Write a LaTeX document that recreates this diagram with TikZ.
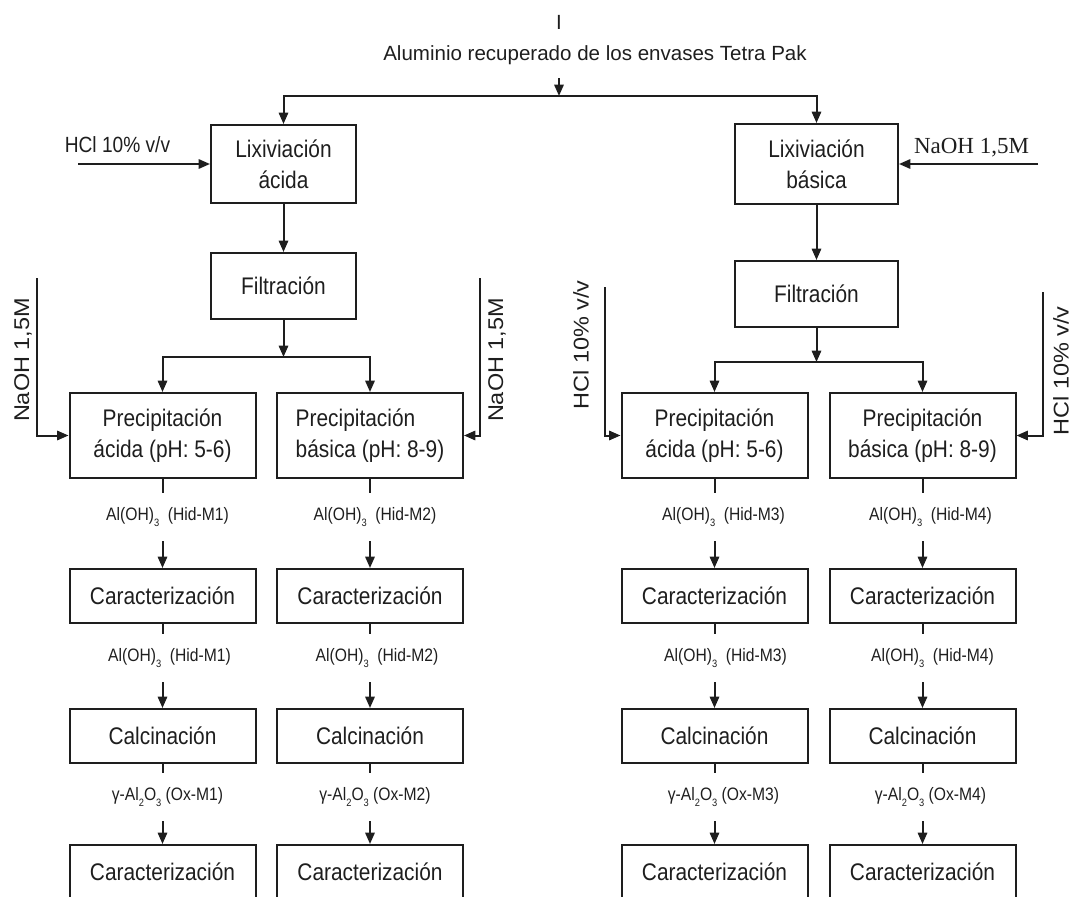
\documentclass[tikz,border=0pt]{standalone}
\usepackage{fontspec}
\setmainfont{Liberation Sans}
\newfontfamily\condfont{Liberation Sans}[FakeStretch=0.87]
\newfontfamily\widefont{Liberation Sans}[FakeStretch=1.1]
\newfontfamily\serffont{Liberation Serif}
\usetikzlibrary{arrows.meta}
\definecolor{ink}{RGB}{30,30,30}
\newcommand\lowsub[1]{\raisebox{-0.55ex}{\footnotesize #1}}

\begin{document}
\begin{tikzpicture}[x=0.75pt,y=-0.75pt,
  every node/.style={text=ink},
  proc/.style={draw=ink,line width=1.5pt,rectangle,inner sep=0pt,align=center,
    font=\condfont\fontsize{18}{23}\selectfont},
  lixbox/.style={proc,minimum width=108.75pt,minimum height=58.5pt},
  filbox/.style={proc,minimum width=108.75pt,minimum height=49.5pt},
  precbox/.style={proc,minimum width=139.5pt,minimum height=63.75pt},
  stepbox/.style={proc,minimum width=139.5pt,minimum height=40.5pt},
  small/.style={font=\condfont\fontsize{13.5}{16}\selectfont,inner sep=1pt},
  rotlab/.style={rotate=90,font=\widefont\fontsize{16}{18}\selectfont,inner sep=1pt},
  conn/.style={draw=ink,line width=1.5pt},
  arr/.style={conn,-{Triangle[length=8.5pt,width=7pt]}}
]
\useasboundingbox (0,0) rectangle (1092,896);

% source material
\node[font=\fontsize{15.4}{18}\selectfont] (tick) at (559,22) {I};
\node[font=\fontsize{15.4}{18}\selectfont] (title) at (595,55) {Aluminio recuperado de los envases Tetra Pak};
\coordinate (t0) at (559,78);
\coordinate (j0) at (559,96);
\draw[arr] (t0) -- (j0);

% leaching
\node[lixbox] (lixA) at (283.5,164) {Lixiviación\\ácida};
\node[lixbox,minimum width=122.25pt,minimum height=60pt] (lixB) at (816.5,164) {Lixiviación\\básica};
\draw[arr] (j0) -| (lixA.north);
\draw[arr] (j0) -| (lixB.north);

\coordinate (hclA) at (78,164);
\draw[arr] (hclA) -- (lixA.west);
\node[font=\condfont\fontsize{16.5}{18}\selectfont] (hclAlab) at (117.5,145) {HCl 10\% v/v};
\coordinate (naB) at (1038,164);
\draw[arr] (naB) -- (lixB.east);
\node[font=\serffont\fontsize{17.25}{20}\selectfont] (naBlab) at (971.5,148) {NaOH 1,5M};

% filtration
\node[filbox] (filA) at (283.5,286) {Filtración};
\node[filbox,minimum width=122.25pt] (filB) at (816.5,294) {Filtración};
\draw[arr] (lixA) -- (filA);
\draw[arr] (lixB) -- (filB);
\coordinate (jA) at (283.5,357);
\coordinate (jB) at (816.5,362);
\draw[arr] (filA) -- (jA);
\draw[arr] (filB) -- (jB);

% precipitation
\node[precbox] (pA1) at (162.5,435.5) {Precipitación\\ácida (pH: 5-6)};
\node[precbox,align=left] (pA2) at (370,435.5) {Precipitación\\básica (pH: 8-9)};
\node[precbox] (pB1) at (714.5,435.5) {Precipitación\\ácida (pH: 5-6)};
\node[precbox] (pB2) at (922.5,435.5) {Precipitación\\básica (pH: 8-9)};
\draw[arr] (jA) -| (pA1.north);
\draw[arr] (jA) -| (pA2.north);
\draw[arr] (jB) -| (pB1.north);
\draw[arr] (jB) -| (pB2.north);

% reagent feeds
\coordinate (nA1) at (37,278);
\draw[arr] (nA1) |- (pA1.west);
\node[rotlab] (nA1lab) at (23,360) {NaOH 1,5M};
\coordinate (nA2) at (480,278);
\draw[arr] (nA2) |- (pA2.east);
\node[rotlab] (nA2lab) at (497,360) {NaOH 1,5M};
\coordinate (hB1) at (605,287);
\draw[arr] (hB1) |- (pB1.west);
\node[rotlab] (hB1lab) at (581,345) {HCl 10\% v/v};
\coordinate (hB2) at (1043,292);
\draw[arr] (hB2) |- (pB2.east);
\node[rotlab] (hB2lab) at (1061,371) {HCl 10\% v/v};

% characterisation and calcination per sample
\foreach \p/\x/\dx/\m in {A1/162.5/5/1, A2/370/5/2, B1/714.5/9/3, B2/922.5/8/4} {
  \node[stepbox] (c1\p) at (\x,596) {Caracterización};
  \node[stepbox] (k\p) at (\x,736) {Calcinación};
  \node[stepbox] (c2\p) at (\x,872) {Caracterización};

  \draw[conn] (p\p.south) -- ++(0,14);
  \node[small] (h1\p) at (\x+\dx,517) {Al(OH)\lowsub{3}\ \ (Hid-M\m)};
  \draw[arr] ([yshift=20.25pt]c1\p.north) -- (c1\p.north);

  \draw[conn] (c1\p.south) -- ++(0,10);
  \node[small] (h2\p) at (\x+\dx+2,658) {Al(OH)\lowsub{3}\ \ (Hid-M\m)};
  \draw[arr] ([yshift=19.5pt]k\p.north) -- (k\p.north);

  \draw[conn] (k\p.south) -- ++(0,9);
  \node[small] (o\p) at (\x+\dx,797) {γ-Al\lowsub{2}O\lowsub{3}\ (Ox-M\m)};
  \draw[arr] ([yshift=17.25pt]c2\p.north) -- (c2\p.north);
}
\end{tikzpicture}
\end{document}
